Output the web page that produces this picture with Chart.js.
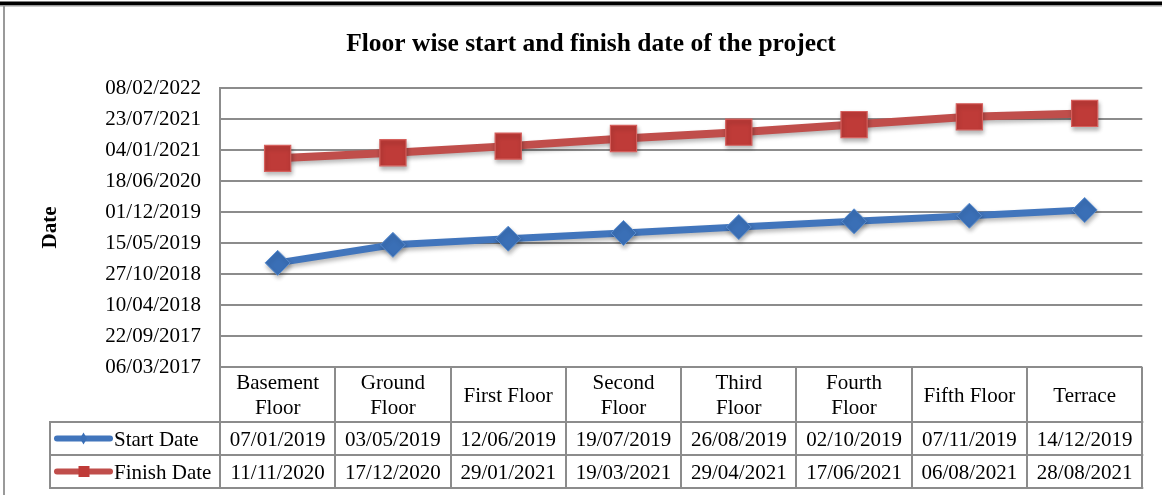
<!DOCTYPE html>
<html>
<head>
<meta charset="utf-8">
<script src="https://cdn.jsdelivr.net/npm/chart.js@4"></script>
<style>
  html, body { margin: 0; padding: 0; background: #ffffff; }
  #wrap { width: 1162px; height: 495px; position: relative; }
</style>
</head>
<body>
<div id="wrap"><canvas id="c" width="1162" height="495"></canvas></div>
<script>
// ---- data ----
const categories = [['Basement', 'Floor'], ['Ground', 'Floor'], 'First Floor', ['Second', 'Floor'], ['Third', 'Floor'], ['Fourth', 'Floor'], 'Fifth Floor', 'Terrace'];
const startDates  = ['07/01/2019', '03/05/2019', '12/06/2019', '19/07/2019', '26/08/2019', '02/10/2019', '07/11/2019', '14/12/2019'];
const finishDates = ['11/11/2020', '17/12/2020', '29/01/2021', '19/03/2021', '29/04/2021', '17/06/2021', '06/08/2021', '28/08/2021'];
const yTickLabels = ['06/03/2017', '22/09/2017', '10/04/2018', '27/10/2018', '15/05/2019', '01/12/2019', '18/06/2020', '04/01/2021', '23/07/2021', '08/02/2022'];
const seriesNames = ['Start Date', 'Finish Date'];
const chartTitle = 'Floor wise start and finish date of the project';
const yTitle = 'Date';

// dd/mm/yyyy -> day number
function toDay(s) {
  const [d, m, y] = s.split('/').map(Number);
  return Date.UTC(y, m - 1, d) / 86400000;
}

const FONT = 'Liberation Serif, Times New Roman, serif';
const BLUE_LINE = '#4175bc';
const BLUE_PT = '#3a6fb6';
const RED_LINE = '#c04e4b';
const RED_PT = '#bf3b38';
const GRID = '#8c8c8c';
const LEFT_PAD = 37;

const framePlugin = {
  id: 'frame',
  beforeDraw(chart) {
    const ctx = chart.ctx;
    ctx.save();
    ctx.fillStyle = '#ffffff';
    ctx.fillRect(0, 0, chart.width, chart.height);
    ctx.fillStyle = '#000000';
    ctx.fillRect(0, 1.5, chart.width, 3.5);
    ctx.fillStyle = '#9a9a9a';
    ctx.fillRect(0, 5, chart.width, 1.5);
    ctx.fillRect(3, 5, 2, chart.height - 5);
    ctx.restore();
  }
};

const shadowPlugin = {
  id: 'shadow',
  beforeDatasetDraw(chart) {
    const ctx = chart.ctx;
    ctx.save();
    ctx.shadowColor = 'rgba(0,0,0,0.28)';
    ctx.shadowBlur = 4;
    ctx.shadowOffsetX = 1;
    ctx.shadowOffsetY = 3;
  },
  afterDatasetDraw(chart) {
    chart.ctx.restore();
  }
};

const tablePlugin = {
  id: 'dataTable',
  afterDraw(chart) {
    const ctx = chart.ctx;
    const xs = chart.scales.x;
    const area = chart.chartArea;
    const n = categories.length;
    const colW = (area.right - area.left) / n;
    const top = area.bottom;
    const headerBottom = top + 55;
    const rowH = 33;
    const row1Bottom = headerBottom + rowH;
    const row2Bottom = row1Bottom + rowH;
    const legendLeft = 50;

    ctx.save();
    ctx.strokeStyle = GRID;
    ctx.lineWidth = 2;
    ctx.beginPath();
    for (let i = 0; i <= n; i++) {
      const x = Math.round(area.left + i * colW);
      ctx.moveTo(x, top);
      ctx.lineTo(x, row2Bottom);
    }
    ctx.moveTo(legendLeft, headerBottom);
    ctx.lineTo(legendLeft, row2Bottom);
    [headerBottom, row1Bottom, row2Bottom].forEach(y => {
      ctx.moveTo(legendLeft - 1, y);
      ctx.lineTo(area.right + 1, y);
    });
    ctx.stroke();

    ctx.fillStyle = '#000000';
    ctx.font = '21px ' + FONT;
    ctx.textAlign = 'center';
    ctx.textBaseline = 'middle';
    categories.forEach((lab, i) => {
      const cx = xs.getPixelForValue(i);
      const lines = Array.isArray(lab) ? lab : [lab];
      const lh = 24.5;
      const cy = (top + headerBottom) / 2 + 1.5;
      lines.forEach((t, k) => {
        ctx.fillText(t, cx, cy + (k - (lines.length - 1) / 2) * lh);
      });
    });
    const rows = [startDates, finishDates];
    const rowCenters = [(headerBottom + row1Bottom) / 2 + 1.5, (row1Bottom + row2Bottom) / 2 + 1.5];
    rows.forEach((vals, r) => {
      vals.forEach((v, i) => {
        ctx.fillText(v, xs.getPixelForValue(i), rowCenters[r]);
      });
    });
    rows.forEach((vals, r) => {
      const cy = rowCenters[r] - 1.5;
      ctx.strokeStyle = r === 0 ? BLUE_LINE : RED_LINE;
      ctx.lineWidth = 6;
      ctx.lineCap = 'round';
      ctx.beginPath();
      ctx.moveTo(57, cy);
      ctx.lineTo(110, cy);
      ctx.stroke();
      ctx.fillStyle = r === 0 ? BLUE_PT : RED_PT;
      ctx.beginPath();
      if (r === 0) {
        ctx.moveTo(83.5, cy - 6);
        ctx.lineTo(87, cy);
        ctx.lineTo(83.5, cy + 6);
        ctx.lineTo(80, cy);
        ctx.closePath();
      } else {
        ctx.rect(78.5, cy - 5.5, 11, 11);
      }
      ctx.fill();
      ctx.fillStyle = '#000000';
      ctx.textAlign = 'left';
      ctx.fillText(seriesNames[r], 114, rowCenters[r]);
    });
    ctx.restore();
  }
};

new Chart(document.getElementById('c'), {
  type: 'line',
  data: {
    labels: categories,
    datasets: [
      {
        label: seriesNames[0],
        data: startDates.map(toDay),
        borderColor: BLUE_LINE,
        borderWidth: 7,
        backgroundColor: BLUE_PT,
        pointStyle: 'rectRot',
        pointRadius: 12.5,
        pointBorderColor: '#5b8ed0',
        pointBorderWidth: 1,
        tension: 0
      },
      {
        label: seriesNames[1],
        data: finishDates.map(toDay),
        borderColor: RED_LINE,
        borderWidth: 8,
        backgroundColor: RED_PT,
        pointStyle: 'rect',
        pointRadius: 18.5,
        pointBorderColor: '#d5605d',
        pointBorderWidth: 1.2,
        tension: 0
      }
    ]
  },
  options: {
    responsive: false,
    animation: false,
    devicePixelRatio: 1,
    layout: { padding: { top: 0, right: 17, bottom: 128, left: LEFT_PAD } },
    plugins: {
      legend: { display: false },
      tooltip: { enabled: false },
      title: {
        display: true,
        text: chartTitle,
        color: '#000000',
        font: { family: FONT, size: 25.5, weight: 'bold' },
        padding: { top: 29, bottom: 28.4 }
      }
    },
    scales: {
      x: {
        type: 'category',
        offset: true,
        display: false,
        grid: { display: false }
      },
      y: {
        type: 'linear',
        min: toDay(yTickLabels[0]),
        max: toDay(yTickLabels[yTickLabels.length - 1]),
        afterBuildTicks(s) {
          s.ticks = yTickLabels.map(t => ({ value: toDay(t) }));
        },
        afterFit(s) { s.width = 220 - LEFT_PAD; },
        ticks: {
          callback: (v, i) => yTickLabels[i],
          color: '#000000',
          font: { family: FONT, size: 21 },
          padding: 19
        },
        grid: { color: GRID, lineWidth: 2, drawTicks: false },
        border: { display: true, color: GRID, width: 2 },
        title: {
          display: true,
          text: yTitle,
          color: '#000000',
          font: { family: FONT, size: 21, weight: 'bold' },
          padding: { top: 0.5, bottom: 0 }
        }
      }
    }
  },
  plugins: [framePlugin, shadowPlugin, tablePlugin]
});
</script>
</body>
</html>
